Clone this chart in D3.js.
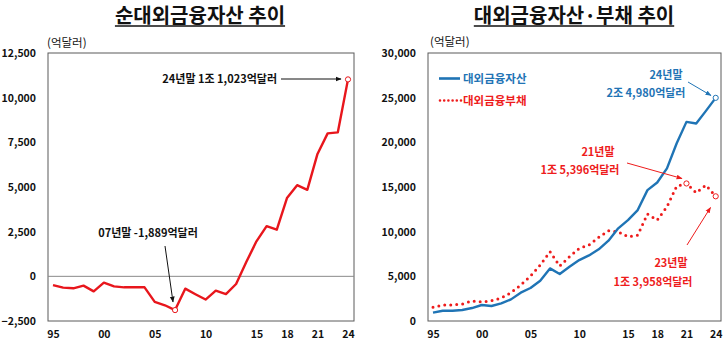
<!DOCTYPE html>
<html><head><meta charset="utf-8">
<script src="https://cdn.jsdelivr.net/npm/d3@7"></script>
<style>
html,body{margin:0;padding:0;background:#fff;}
text{font-family:"Noto Sans CJK KR","Noto Sans",sans-serif;}
</style></head>
<body><svg id="c" width="727" height="352"></svg>
<script>
const years = d3.range(1995, 2025);
// 순대외금융자산 (억달러)
const netAssets = [-490,-630,-670,-520,-840,-350,-560,-615,-615,-615,-1430,-1620,-1889,-690,-1000,-1300,-800,-990,-430,800,1960,2810,2610,4380,5100,4840,6850,8000,8060,11023];
// 대외금융자산 / 부채 (억달러)
const assets = [930,1150,1150,1230,1450,1790,1680,1975,2420,3170,3690,4510,5890,5260,6080,6820,7340,8020,8990,10370,11300,12420,14650,15510,17080,19900,22290,22110,23520,24980];
const liabilities = [1530,1790,1790,1900,2240,2125,2275,2570,3170,4030,5030,6260,7760,6150,7200,8130,8500,9360,10100,9990,9430,9620,11970,11300,12790,15100,15396,14350,15210,13958];
const xTicks = [1995,2000,2005,2010,2015,2018,2021,2024];
const leftYTicks = [-2500,0,2500,5000,7500,10000,12500];
const rightYTicks = [0,5000,10000,15000,20000,25000,30000];
const titles = ["순대외금융자산 추이","대외금융자산·부채 추이"];
const unitLabel = "(억달러)";
const seriesNames = ["대외금융자산","대외금융부채"];

const svg = d3.select("#c");
const fmt = d3.format(",");
const yrFmt = d => String(d % 100).padStart(2, "0");
const RED = "#e8161c", BLUE = "#1f74b5", RED2 = "#ee1c1c";

function title(txt, cx){
  const t = svg.append("text").attr("x", cx).attr("y", 22.5).attr("text-anchor","middle")
    .attr("font-size", 20).attr("font-weight", "bold").attr("fill","#111").text(txt);
  const b = t.node().getBBox();
  svg.append("line").attr("x1", b.x).attr("x2", b.x + b.width).attr("y1", 26).attr("y2", 26)
    .attr("stroke","#111").attr("stroke-width",1.6);
}
function axes(g, x, y, yTicks, left, right, top, bottom){
  g.append("rect").attr("x", left).attr("y", top).attr("width", right-left).attr("height", bottom-top)
    .attr("fill","none").attr("stroke","#5a5a5a").attr("stroke-width",1);
  const ya = g.append("g").attr("transform",`translate(${left},0)`)
    .call(d3.axisLeft(y).tickValues(yTicks).tickSize(0).tickPadding(12).tickFormat(fmt));
  ya.select(".domain").remove();
  ya.selectAll("text").attr("font-size",10.5).attr("font-weight","bold").attr("fill","#111");
  const xa = g.append("g").attr("transform",`translate(0,${bottom})`)
    .call(d3.axisBottom(x).tickValues(xTicks).tickSize(0).tickPadding(10).tickFormat(yrFmt));
  xa.select(".domain").remove();
  xa.selectAll("text").attr("font-size",10.5).attr("font-weight","bold").attr("fill","#111");
}
function arrow(id, color){
  svg.append("defs").append("marker").attr("id", id).attr("viewBox","0 0 10 10")
    .attr("refX",9).attr("refY",5).attr("markerWidth",6).attr("markerHeight",6).attr("orient","auto")
    .append("path").attr("d","M0,1 L10,5 L0,9 z").attr("fill",color);
}
arrow("ak","#111"); arrow("ab",BLUE); arrow("ar",RED2);

// ---------- Left chart ----------
title(titles[0], 200);
const xL = d3.scaleLinear().domain([1995,2024]).range([53,348]);
const yL = d3.scaleLinear().domain([-2500,12500]).range([321,53]);
const gL = svg.append("g");
axes(gL, xL, yL, leftYTicks, 48, 354, 53, 321);
gL.append("line").attr("x1",48).attr("x2",354).attr("y1",yL(0)).attr("y2",yL(0)).attr("stroke","#8a8a8a").attr("stroke-width",1);
gL.append("text").attr("x",47).attr("y",47).attr("font-size",11.5).attr("fill","#111").text(unitLabel);
gL.append("path").datum(netAssets).attr("fill","none").attr("stroke",RED).attr("stroke-width",2.4)
  .attr("stroke-linejoin","round")
  .attr("d", d3.line().x((d,i)=>xL(years[i])).y(d=>yL(d)));
[12, 29].forEach(i => gL.append("circle").attr("cx",xL(years[i])).attr("cy",yL(netAssets[i])).attr("r",2.6)
  .attr("fill","#fff").attr("stroke",RED).attr("stroke-width",1));
gL.append("text").attr("x",277).attr("y",83).attr("text-anchor","end").attr("font-size",11).attr("font-weight","bold").attr("fill","#111")
  .text("24년말 1조 1,023억달러");
gL.append("line").attr("x1",281).attr("x2",xL(2024)-7).attr("y1",79).attr("y2",79).attr("stroke","#111").attr("stroke-width",1).attr("marker-end","url(#ak)");
gL.append("text").attr("x",148).attr("y",237).attr("text-anchor","middle").attr("font-size",11).attr("font-weight","bold").attr("fill","#111")
  .text("07년말 -1,889억달러");
gL.append("line").attr("x1",165).attr("y1",246).attr("x2",173).attr("y2",302).attr("stroke","#111").attr("stroke-width",1).attr("marker-end","url(#ak)");

// ---------- Right chart ----------
title(titles[1], 574);
const xR = d3.scaleLinear().domain([1995,2024]).range([433,715.7]);
const yR = d3.scaleLinear().domain([0,30000]).range([321,53]);
const gR = svg.append("g");
axes(gR, xR, yR, rightYTicks, 428, 721, 53, 321);
gR.append("text").attr("x",430).attr("y",46).attr("font-size",11.5).attr("fill","#111").text(unitLabel);
const lineR = d3.line().x((d,i)=>xR(years[i])).y(d=>yR(d));
gR.append("path").datum(liabilities).attr("fill","none").attr("stroke",RED2).attr("stroke-width",3)
  .attr("stroke-dasharray","0 6").attr("stroke-linecap","round").attr("d", lineR);
gR.append("path").datum(assets).attr("fill","none").attr("stroke",BLUE).attr("stroke-width",2.4)
  .attr("stroke-linejoin","round").attr("d", lineR);
gR.append("circle").attr("cx",xR(2024)).attr("cy",yR(assets[29])).attr("r",2.6).attr("fill","#fff").attr("stroke",BLUE).attr("stroke-width",1);
[26, 29].forEach(i => gR.append("circle").attr("cx",xR(years[i])).attr("cy",yR(liabilities[i])).attr("r",2.6)
  .attr("fill","#fff").attr("stroke",RED2).attr("stroke-width",1));
// legend
gR.append("line").attr("x1",439).attr("x2",460).attr("y1",78.5).attr("y2",78.5).attr("stroke",BLUE).attr("stroke-width",2.6);
gR.append("text").attr("x",463).attr("y",82.5).attr("font-size",11.5).attr("font-weight","bold").attr("fill",BLUE).text(seriesNames[0]);
gR.append("line").attr("x1",440).attr("x2",461).attr("y1",100.5).attr("y2",100.5).attr("stroke",RED2).attr("stroke-width",2.6)
  .attr("stroke-dasharray","0 4.2").attr("stroke-linecap","round");
gR.append("text").attr("x",463).attr("y",104.5).attr("font-size",11.5).attr("font-weight","bold").attr("fill",RED2).text(seriesNames[1]);
// annotations
gR.append("text").attr("x",666).attr("y",79).attr("text-anchor","middle").attr("font-size",11).attr("font-weight","bold").attr("fill",BLUE).text("24년말");
gR.append("text").attr("x",646).attr("y",97).attr("text-anchor","middle").attr("font-size",11).attr("font-weight","bold").attr("fill",BLUE).text("2조 4,980억달러");
gR.append("line").attr("x1",688).attr("y1",82).attr("x2",711).attr("y2",95.5).attr("stroke",BLUE).attr("stroke-width",1).attr("marker-end","url(#ab)");
gR.append("text").attr("x",598).attr("y",156).attr("text-anchor","middle").attr("font-size",11).attr("font-weight","bold").attr("fill",RED2).text("21년말");
gR.append("text").attr("x",580).attr("y",174).attr("text-anchor","middle").attr("font-size",11).attr("font-weight","bold").attr("fill",RED2).text("1조 5,396억달러");
gR.append("line").attr("x1",627).attr("y1",163).attr("x2",682).attr("y2",178.5).attr("stroke",RED2).attr("stroke-width",1).attr("marker-end","url(#ar)");
gR.append("text").attr("x",671).attr("y",267).attr("text-anchor","middle").attr("font-size",11).attr("font-weight","bold").attr("fill",RED2).text("23년말");
gR.append("text").attr("x",653).attr("y",286).attr("text-anchor","middle").attr("font-size",11).attr("font-weight","bold").attr("fill",RED2).text("1조 3,958억달러");
gR.append("line").attr("x1",687).attr("y1",245).attr("x2",710.5).attr("y2",207.5).attr("stroke",RED2).attr("stroke-width",1).attr("marker-end","url(#ar)");
</script></body></html>
